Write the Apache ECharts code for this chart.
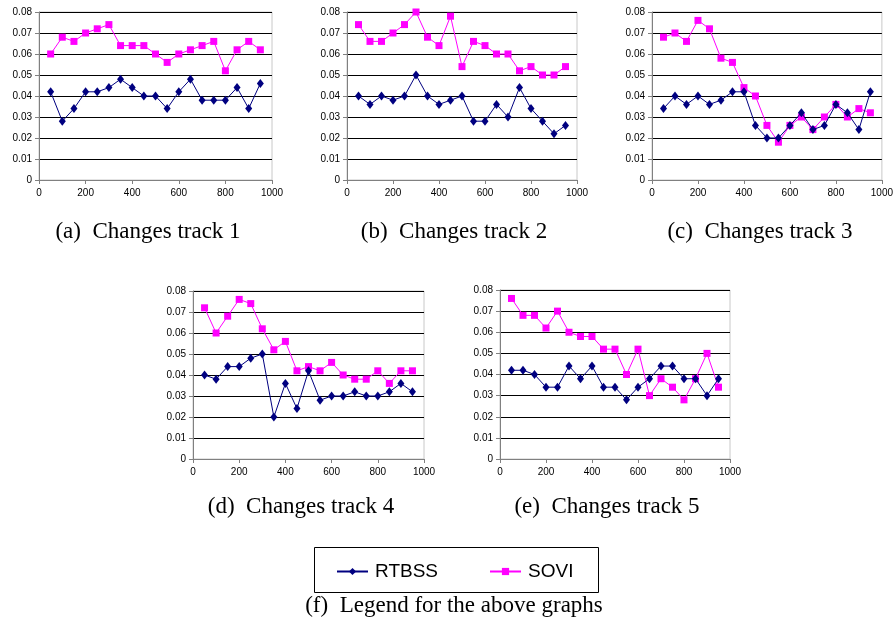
<!DOCTYPE html>
<html>
<head>
<meta charset="utf-8">
<script src="https://cdn.jsdelivr.net/npm/echarts@6/dist/echarts.min.js"></script>
<style>
html,body{margin:0;padding:0;background:#fff;}
#main{width:896px;height:619px;}
</style>
</head>
<body>
<div id="main"></div>
<script>
// ---- data ----
const xValues = [50,100,150,200,250,300,350,400,450,500,550,600,650,700,750,800,850,900,950];
const xTicks = [0,200,400,600,800,1000];
const yTicks = [0,0.01,0.02,0.03,0.04,0.05,0.06,0.07,0.08];
const seriesNames = ['RTBSS','SOVI'];
const captions = ['(a)  Changes track 1','(b)  Changes track 2','(c)  Changes track 3','(d)  Changes track 4','(e)  Changes track 5'];
const legendCaption = '(f)  Legend for the above graphs';

const rtbss1 = [0.042,0.028,0.034,0.042,0.042,0.044,0.048,0.044,0.040,0.040,0.034,0.042,0.048,0.038,0.038,0.038,0.044,0.034,0.046];
const sovi1  = [0.060,0.068,0.066,0.070,0.072,0.074,0.064,0.064,0.064,0.060,0.056,0.060,0.062,0.064,0.066,0.052,0.062,0.066,0.062];
const rtbss2 = [0.040,0.036,0.040,0.038,0.040,0.050,0.040,0.036,0.038,0.040,0.028,0.028,0.036,0.030,0.044,0.034,0.028,0.022,0.026];
const sovi2  = [0.074,0.066,0.066,0.070,0.074,0.080,0.068,0.064,0.078,0.054,0.066,0.064,0.060,0.060,0.052,0.054,0.050,0.050,0.054];
const rtbss3 = [0.034,0.040,0.036,0.040,0.036,0.038,0.042,0.042,0.026,0.020,0.020,0.026,0.032,0.024,0.026,0.036,0.032,0.024,0.042];
const sovi3  = [0.068,0.070,0.066,0.076,0.072,0.058,0.056,0.044,0.040,0.026,0.018,0.026,0.030,0.024,0.030,0.036,0.030,0.034,0.032];
const rtbss4 = [0.040,0.038,0.044,0.044,0.048,0.050,0.020,0.036,0.024,0.042,0.028,0.030,0.030,0.032,0.030,0.030,0.032,0.036,0.032];
const sovi4  = [0.072,0.060,0.068,0.076,0.074,0.062,0.052,0.056,0.042,0.044,0.042,0.046,0.040,0.038,0.038,0.042,0.036,0.042,0.042];
const rtbss5 = [0.042,0.042,0.040,0.034,0.034,0.044,0.038,0.044,0.034,0.034,0.028,0.034,0.038,0.044,0.044,0.038,0.038,0.030,0.038];
const sovi5  = [0.076,0.068,0.068,0.062,0.070,0.060,0.058,0.058,0.052,0.052,0.040,0.052,0.030,0.038,0.034,0.028,0.038,0.050,0.034];

const tracks = [[rtbss1,sovi1],[rtbss2,sovi2],[rtbss3,sovi3],[rtbss4,sovi4],[rtbss5,sovi5]];

// ---- layout ----
const grids = [
  {left:39,  top:12,  width:233, height:168},
  {left:347, top:12,  width:230, height:168},
  {left:652, top:12,  width:231, height:168},
  {left:193, top:291, width:231, height:168},
  {left:500, top:290, width:230, height:169}
];
const captionPos = [[148,232],[454,232],[760,232],[301,507],[607,507]];

const FONT = '"Liberation Sans", Arial, sans-serif';
const SERIF = '"Liberation Serif", "Times New Roman", serif';
const colors = ['#000080','#ff00ff'];
const symbols = ['diamond','rect'];
const symbolSizes = [[7,9],7];

const xAxes = [], yAxes = [], series = [];
grids.forEach((g,i)=>{
  xAxes.push({
    type:'value', gridIndex:i, min:xTicks[0], max:xTicks[xTicks.length-1], interval:200,
    axisLine:{show:true,onZero:false,lineStyle:{color:'#808080',width:1}},
    axisTick:{show:true,inside:false,length:4,lineStyle:{color:'#808080'}},
    axisLabel:{color:'#000',fontFamily:FONT,fontSize:10,margin:8,formatter:v=>String(v)},
    splitLine:{show:false}
  });
  yAxes.push({
    type:'value', gridIndex:i, min:yTicks[0], max:yTicks[yTicks.length-1], interval:0.01,
    axisLine:{show:true,lineStyle:{color:'#808080',width:1}},
    axisTick:{show:true,inside:false,length:4,lineStyle:{color:'#808080'}},
    axisLabel:{color:'#000',fontFamily:FONT,fontSize:10,margin:7,
      formatter:v=> v===0 ? '0' : v.toFixed(2)},
    splitLine:{show:true,lineStyle:{color:'#000',width:1}}
  });
  tracks[i].forEach((vals,k)=>{
    series.push({
      name:seriesNames[k], type:'line', xAxisIndex:i, yAxisIndex:i,
      data: xValues.map((x,j)=>[x, vals[j]]),
      symbol:symbols[k], symbolSize:symbolSizes[k], showAllSymbol:true,
      lineStyle:{color:colors[k],width:1},
      itemStyle:{color:colors[k],borderWidth:0},
      emphasis:{disabled:true},
      animation:false, z: k===0 ? 3 : 2
    });
  });
});

const graphics = captions.map((t,i)=>({
  type:'text', x:captionPos[i][0], y:captionPos[i][1],
  style:{text:t, font:'23px '+SERIF, fill:'#000', align:'center', verticalAlign:'middle'}
}));
graphics.push({type:'rect', shape:{x:314.5,y:547.5,width:284,height:45},
  style:{fill:'none',stroke:'#000',lineWidth:1}});
graphics.push({type:'text', x:454, y:606,
  style:{text:legendCaption, font:'23px '+SERIF, fill:'#000', align:'center', verticalAlign:'middle'}});

const chart = echarts.init(document.getElementById('main'), null, {renderer:'canvas'});
chart.setOption({
  animation:false,
  backgroundColor:'#fff',
  grid: grids.map(g=>Object.assign({show:true,borderColor:'#c8c8c8',borderWidth:1,backgroundColor:'transparent'},g)),
  xAxis:xAxes, yAxis:yAxes, series,
  legend:{
    data:seriesNames, left:336, top:562, padding:0, itemWidth:31, itemHeight:9, itemGap:51,
    textStyle:{fontFamily:FONT,fontSize:19,color:'#000',padding:[0,0,0,2]},
    selectedMode:false
  },
  graphic:graphics
});
</script>
</body>
</html>
